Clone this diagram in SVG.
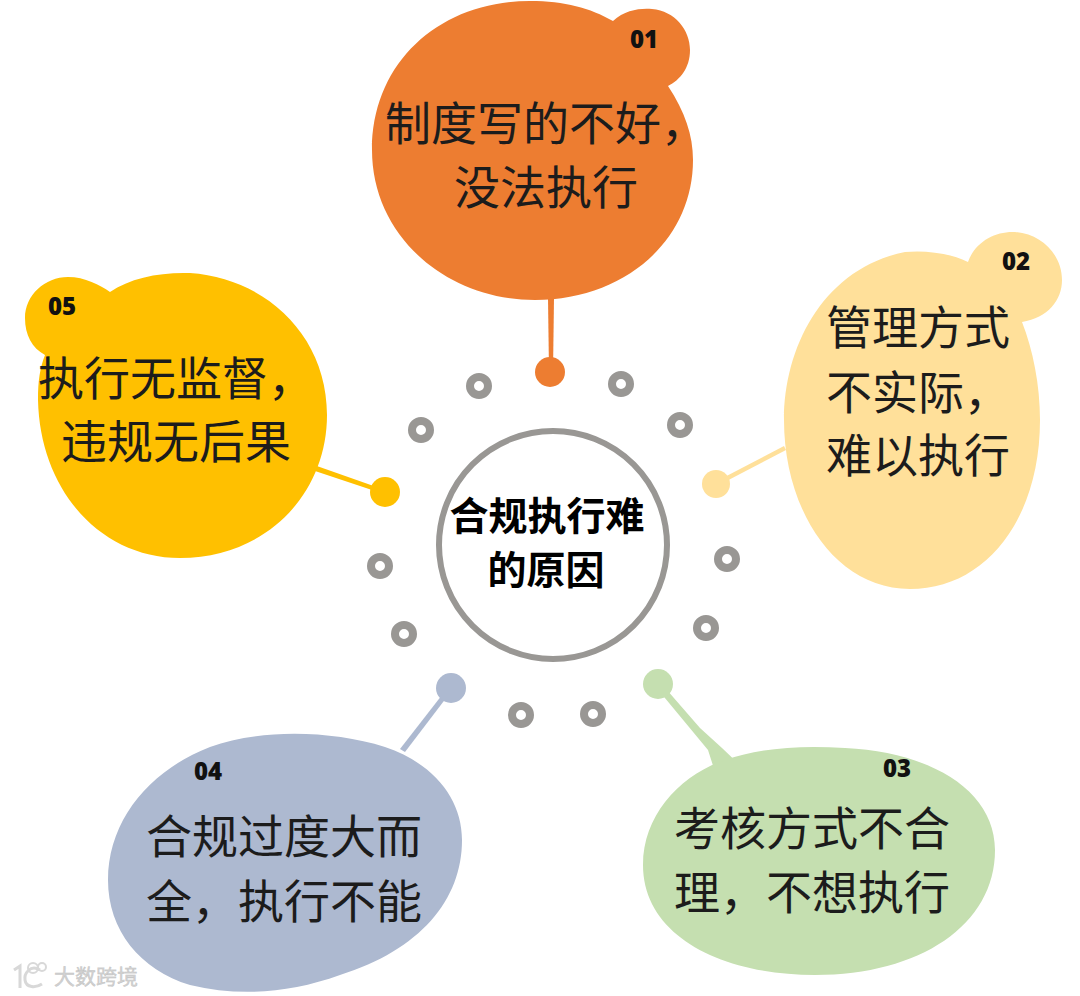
<svg xmlns="http://www.w3.org/2000/svg" width="1080" height="996" viewBox="0 0 1080 996">
<style>
.cn{font-family:"Noto Sans CJK SC","Noto Sans",sans-serif;font-size:46px;fill:#1c1c1c}
.m{text-anchor:middle}
.ctr{font-family:"Noto Sans CJK SC",sans-serif;font-size:39px;font-weight:700;fill:#000;text-anchor:middle}
.num{font-family:"Open Sans","Liberation Sans",sans-serif;font-size:24px;font-weight:800;fill:#111;text-anchor:middle}
.dot{fill:#fff;stroke:#999794;stroke-width:8}
.o{fill:#ed7d31}.y{fill:#ffe09a}.g{fill:#c5dfb0}.b{fill:#adb9d0}.a{fill:#ffc000}
</style>
<rect width="1080" height="996" fill="#fff"/>
<g id="connectors">
<path class="o" d="M548 298H554L553 372H549Z"/>
<path class="y" d="M784 446L786 450L717 486L715 482Z"/>
<path class="g" d="M655 686L660 682L700 728L722 748L745 770L716 775L708 750Z"/>
<path class="b" d="M400 749L449 686L453 689L405 752Z"/>
<path class="a" d="M314 465L385 490L384 494L312 470Z"/>
</g>
<g id="ring">
<circle class="dot" cx="479" cy="386" r="9"/>
<circle class="dot" cx="621" cy="384" r="9"/>
<circle class="dot" cx="421" cy="430" r="9"/>
<circle class="dot" cx="680" cy="425" r="9"/>
<circle class="dot" cx="380" cy="566" r="9"/>
<circle class="dot" cx="727" cy="559" r="9"/>
<circle class="dot" cx="404" cy="634" r="9"/>
<circle class="dot" cx="706" cy="628" r="9"/>
<circle class="dot" cx="521" cy="715" r="9"/>
<circle class="dot" cx="593" cy="714" r="9"/>
</g>
<g id="center">
<circle cx="553" cy="545" r="114" fill="#fff" stroke="#999794" stroke-width="6"/>
<text class="ctr" x="547" y="530">合规执行难</text>
<text class="ctr" x="546" y="584">的原因</text>
</g>
<g id="node-01">
<path class="o" d="M372 150C372 62 440 1 530 1C565 1 590 8 613 21C625 10 640 8 652 9C675 11 690 30 690 50C690 68 680 80 668 86C685 112 693 135 693 160C693 240 625 300 535 300C445 300 372 235 372 150Z"/>
<circle class="o" cx="550" cy="372" r="15"/>
<text class="num" x="644" y="48">01</text>
<text class="cn" x="385" y="140">制度写的不好，</text>
<text class="cn m" x="546" y="204">没法执行</text>
</g>
<g id="node-02">
<path class="y" d="M784 420C784 345 825 268 905 252C925 250 950 253 968 262C975 242 995 231 1015 232C1042 234 1062 255 1062 280C1062 300 1048 318 1022 322C1033 350 1040 385 1040 420C1040 520 985 589 910 589C835 589 784 510 784 420Z"/>
<circle class="y" cx="716" cy="484" r="14"/>
<text class="num" x="1016" y="270">02</text>
<text class="cn" x="826" y="344">管理方式</text>
<text class="cn" x="826" y="409">不实际，</text>
<text class="cn" x="826" y="472">难以执行</text>
</g>
<g id="node-03">
<path class="g" d="M643 865C643 815 680 775 725 760C760 748 800 745 845 748C930 752 995 790 995 850C995 925 920 975 815 975C720 975 643 935 643 865Z"/>
<circle class="g" cx="658" cy="684" r="15"/>
<text class="num" x="897" y="777">03</text>
<text class="cn m" x="812" y="845">考核方式不合</text>
<text class="cn m" x="812" y="909">理，不想执行</text>
</g>
<g id="node-04">
<path class="b" d="M108 880C108 820 150 770 210 747C260 729 330 730 385 747C435 764 462 800 462 840C462 900 420 950 340 975C290 993 240 997 190 985C140 970 108 930 108 880Z"/>
<circle class="b" cx="451" cy="688" r="15"/>
<text class="num" x="208" y="780">04</text>
<text class="cn m" x="284" y="853">合规过度大而</text>
<text class="cn m" x="284" y="918">全，执行不能</text>
</g>
<g id="node-05">
<path class="a" d="M25 318C25 295 45 277 68 277C85 277 100 285 110 292C130 278 160 272 190 273C265 278 327 335 327 415C327 495 265 558 180 558C100 558 40 490 38 400C38 380 40 368 45 355C32 348 25 335 25 318Z"/>
<circle class="a" cx="385" cy="492" r="15"/>
<text class="num" x="62" y="315">05</text>
<text class="cn" x="38" y="395">执行无监督，</text>
<text class="cn m" x="176" y="458">违规无后果</text>
</g>
<g id="watermark">
<text x="96" y="984" style="font-family:'Noto Sans CJK SC',sans-serif;font-size:21px;fill:#d2d2d2;stroke:#c0c0c0;stroke-width:.4;text-anchor:middle">大数跨境</text>
<path d="M14 970L20 966V988M40 970C30 964 24 974 25 980C26 988 36 988 42 984" fill="none" stroke="#d8d8d8" stroke-width="3"/>
<circle cx="33" cy="968" r="5" fill="none" stroke="#d8d8d8" stroke-width="2"/>
<circle cx="42" cy="967" r="4" fill="none" stroke="#d8d8d8" stroke-width="2"/>
</g>
</svg>
